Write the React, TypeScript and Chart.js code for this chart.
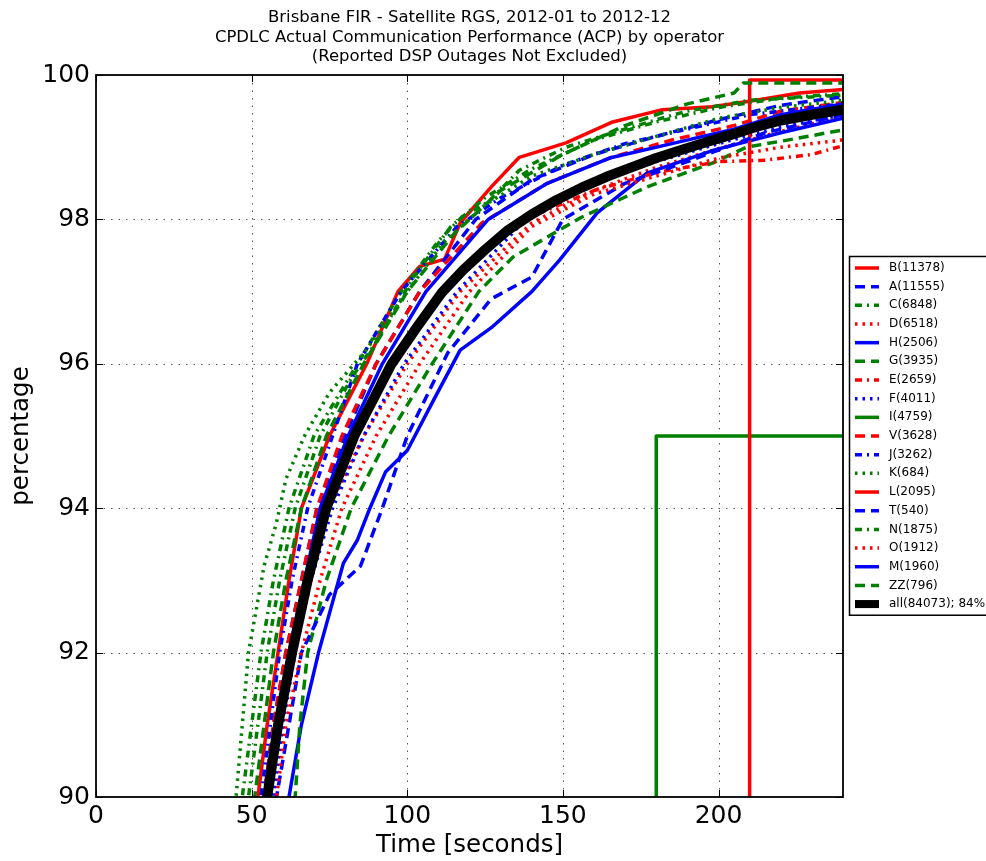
import React, { useEffect, useRef } from 'react';
import { Chart, registerables } from 'chart.js';

Chart.register(...registerables);

// ---------- text ----------
const TITLE_LINES = [
  'Brisbane FIR - Satellite RGS, 2012-01 to 2012-12',
  'CPDLC Actual Communication Performance (ACP) by operator',
  '(Reported DSP Outages Not Excluded)',
];
const X_LABEL = 'Time [seconds]';
const Y_LABEL = 'percentage';

// ---------- axes ----------
const X_MIN = 0;
const X_MAX = 240;
const X_STEP = 50;
const Y_MIN = 90;
const Y_MAX = 100;
const Y_STEP = 2;

// ---------- series: [time (s), cumulative percentage] ----------
type Pt = [number, number];
const B: Pt[] = [[51, 89.5], [52, 90], [55, 91], [58.5, 92], [62, 93], [66, 94], [75, 95], [87, 96], [97, 97], [104, 97.35], [112, 97.45], [117, 97.95], [127, 98.45], [136, 98.86], [151, 99.06], [166, 99.35], [182, 99.52], [198, 99.56], [212, 99.65], [226, 99.75], [240, 99.8]];
const A: Pt[] = [[53, 89.5], [54, 90], [57, 91], [61, 92], [66, 93], [71, 94], [80, 95], [90, 96], [104, 97], [122, 98], [140, 98.55], [160, 98.9], [180, 99.15], [200, 99.38], [220, 99.58], [240, 99.7]];
const C: Pt[] = [[46, 89.5], [47, 90], [50, 91], [53, 92], [57, 93], [62, 94], [70, 95], [84, 96], [98, 97], [110, 97.7], [118, 98.05], [126, 98.24], [136, 98.68], [151, 99.0], [166, 99.2], [180, 99.38], [190, 99.5], [210, 99.65], [240, 99.72]];
const D: Pt[] = [[55, 89.5], [56, 90], [59, 91], [63, 92], [68, 93], [75, 94], [86, 95], [100, 96], [117, 97], [140, 97.95], [160, 98.4], [180, 98.72], [200, 98.98], [220, 99.22], [240, 99.42]];
const H: Pt[] = [[61, 89.5], [62, 90], [66, 91], [71.5, 92], [79.5, 93.24], [84, 93.56], [88, 94], [93, 94.5], [100, 94.8], [108.5, 95.5], [117, 96.19], [127, 96.5], [140, 97.0], [149, 97.44], [161, 98.09], [177, 98.64], [198.5, 98.96], [220, 99.2], [240, 99.4]];
const G: Pt[] = [[63, 89.5], [64, 90], [65.5, 91], [68, 92], [74, 93], [82, 94], [94, 95], [108, 96], [123, 97], [134, 97.48], [156, 98.03], [177, 98.45], [198, 98.78], [209, 99.0], [225, 99.12], [240, 99.24]];
const E: Pt[] = [[54, 89.5], [55, 90], [58, 91], [62, 92], [67, 93], [73, 94], [83, 95], [96, 96], [112, 97], [135, 97.95], [160, 98.4], [180, 98.65], [200, 98.8], [215, 98.82], [230, 98.9], [240, 99.02]];
const F: Pt[] = [[56, 89.5], [57, 90], [60, 91], [64, 92], [69, 93], [76, 94], [86, 95], [99, 96], [116, 97], [138, 98], [160, 98.5], [180, 98.8], [200, 99.05], [220, 99.28], [240, 99.45]];
const I: Pt[] = [[180, 80], [180, 95], [240, 95]];
const V: Pt[] = [[53, 89.5], [54, 90], [57, 91], [61, 92], [66, 93], [71, 94], [79, 95], [90, 96], [104, 97], [124, 97.95], [145, 98.5], [165, 98.85], [185, 99.1], [205, 99.3], [220, 99.5], [240, 99.62]];
const J: Pt[] = [[52, 89.5], [53, 90], [56, 91], [59, 92], [63, 93], [68, 94], [76, 95], [84, 96], [98, 97], [116, 97.9], [130, 98.3], [150, 98.75], [170, 99.05], [190, 99.25], [210, 99.45], [240, 99.6]];
const K: Pt[] = [[44, 89.5], [45, 90], [47, 91], [49, 92], [54, 93.2], [58, 93.8], [61, 94.4], [67, 95], [75, 95.6], [87, 96.2], [100, 97.0], [112, 97.7], [125, 98.2], [140, 98.6], [160, 98.9], [180, 99.15], [200, 99.4], [220, 99.55], [240, 99.65]];
const L: Pt[] = [[210, 80], [210, 99.93], [240, 99.93]];
const T: Pt[] = [[57, 89.5], [58, 90], [62, 91], [66, 92], [75, 92.8], [85, 93.2], [92, 94], [100, 95], [113, 96.15], [127, 96.9], [140, 97.2], [150, 98.0], [170, 98.5], [190, 98.8], [215, 99.2], [240, 99.45]];
const N: Pt[] = [[48, 89.5], [49, 90], [52, 91], [55, 92], [59, 93], [64, 94], [72, 95], [82, 95.8], [90, 96.3], [102, 97.2], [114, 97.9], [125, 98.3], [140, 98.7], [160, 99.1], [180, 99.35], [200, 99.55], [220, 99.68], [240, 99.74]];
const O: Pt[] = [[57, 89.5], [58, 90], [61, 91], [66, 92], [72, 93], [79, 94], [90, 95], [104, 96], [120, 97], [140, 97.9], [160, 98.35], [180, 98.6], [200, 98.85], [220, 99.0], [240, 99.1]];
const M: Pt[] = [[54, 89.5], [55, 90], [58, 91], [62, 92], [67, 93], [72, 94], [81, 95], [92, 96], [106, 97], [126, 98], [145, 98.5], [165, 98.85], [185, 99.05], [205, 99.25], [220, 99.45], [240, 99.6]];
const ZZ: Pt[] = [[50, 89.5], [51, 90], [54, 91], [57, 92], [61, 93], [66, 94], [74, 95], [86, 96], [100, 97], [115, 97.8], [130, 98.4], [150, 98.9], [170, 99.3], [190, 99.6], [205, 99.75], [208, 99.89], [240, 99.89]];
const ALL: Pt[] = [[54, 89.5], [55, 90], [58.5, 91], [63, 92], [68, 93], [74, 94], [83, 95], [95, 96], [103, 96.5], [111, 96.98], [118, 97.3], [125, 97.58], [132, 97.84], [140, 98.07], [148, 98.27], [156, 98.44], [164, 98.59], [172, 98.72], [180, 98.85], [188, 98.96], [196, 99.07], [204, 99.17], [212, 99.28], [220, 99.37], [230, 99.45], [240, 99.52]];

const SERIES_LABELS = [
  'B(11378)', 'A(11555)', 'C(6848)', 'D(6518)', 'H(2506)', 'G(3935)', 'E(2659)', 'F(4011)', 'I(4759)',
  'V(3628)', 'J(3262)', 'K(684)', 'L(2095)', 'T(540)', 'N(1875)', 'O(1912)', 'M(1960)', 'ZZ(796)',
  'all(84073); 84%',
];
const SERIES_DATA = [B, A, C, D, H, G, E, F, I, V, J, K, L, T, N, O, M, ZZ, ALL];

// ---------- styles ----------
const RED = '#ff0000';
const BLUE = '#0000ff';
const GREEN = '#008000';
const COLOR_CYCLE = [RED, BLUE, GREEN];
const DASHES: Record<string, number[]> = {
  solid: [],
  dashed: [10, 6],
  dashdot: [7, 5, 2, 5],
  dotted: [2.5, 5],
};
const STYLE_CYCLE = ['solid', 'dashed', 'dashdot', 'dotted'];
const FONT = '"DejaVu Sans", "Liberation Sans", sans-serif';

function styleFor(i: number) {
  if (i === SERIES_DATA.length - 1) return { color: '#000000', dash: [] as number[], width: 10 };
  return { color: COLOR_CYCLE[i % 3], dash: DASHES[STYLE_CYCLE[i % 4]], width: 3.5 };
}

const decorPlugin = {
  id: 'decor',
  beforeDatasetsDraw(chart: any) {
    const { ctx, chartArea: a, scales } = chart;
    const xs = scales.x;
    const ys = scales.y;
    ctx.save();
    ctx.strokeStyle = '#555555';
    ctx.lineWidth = 1;
    ctx.setLineDash([1.5, 6]);
    xs.ticks.forEach((t: any) => {
      if (t.value <= X_MIN || t.value >= X_MAX) return;
      const px = Math.round(xs.getPixelForValue(t.value)) + 0.5;
      ctx.beginPath();
      ctx.moveTo(px, a.bottom);
      ctx.lineTo(px, a.top);
      ctx.stroke();
    });
    ys.ticks.forEach((t: any) => {
      if (t.value <= Y_MIN || t.value >= Y_MAX) return;
      const py = Math.round(ys.getPixelForValue(t.value)) + 0.5;
      ctx.beginPath();
      ctx.moveTo(a.left, py);
      ctx.lineTo(a.right, py);
      ctx.stroke();
    });
    ctx.restore();
  },
  afterDatasetsDraw(chart: any) {
    const { ctx, chartArea: a, scales } = chart;
    const xs = scales.x;
    const ys = scales.y;
    ctx.save();
    // tick marks (inward, all four sides)
    ctx.strokeStyle = '#000';
    ctx.lineWidth = 1;
    ctx.setLineDash([]);
    const TL = 7;
    xs.ticks.forEach((t: any) => {
      const px = Math.round(xs.getPixelForValue(t.value)) + 0.5;
      ctx.beginPath();
      ctx.moveTo(px, a.bottom);
      ctx.lineTo(px, a.bottom - TL);
      ctx.moveTo(px, a.top);
      ctx.lineTo(px, a.top + TL);
      ctx.stroke();
    });
    ys.ticks.forEach((t: any) => {
      const py = Math.round(ys.getPixelForValue(t.value)) + 0.5;
      ctx.beginPath();
      ctx.moveTo(a.left, py);
      ctx.lineTo(a.left + TL, py);
      ctx.moveTo(a.right, py);
      ctx.lineTo(a.right - TL, py);
      ctx.stroke();
    });
    // frame
    ctx.lineWidth = 1.8;
    ctx.strokeRect(a.left, a.top, a.right - a.left, a.bottom - a.top);

    // title
    ctx.fillStyle = '#000';
    ctx.font = `16.5px ${FONT}`;
    ctx.textAlign = 'center';
    ctx.textBaseline = 'middle';
    const cx = (a.left + a.right) / 2;
    TITLE_LINES.forEach((line, i) => ctx.fillText(line, cx, 18 + i * 19.5));

    // legend
    const lx = a.right + 6;
    const ltop = a.top + 181;
    const rowH = 18.67;
    const lh = rowH * SERIES_LABELS.length + 4;
    ctx.fillStyle = '#ffffff';
    ctx.fillRect(lx, ltop, 300, lh);
    ctx.strokeStyle = '#000';
    ctx.lineWidth = 1.5;
    ctx.strokeRect(lx + 0.5, ltop + 0.5, 300, lh);
    ctx.textAlign = 'left';
    ctx.font = `12px ${FONT}`;
    chart.data.datasets.forEach((ds: any, i: number) => {
      const y = ltop + 12 + i * rowH;
      ctx.save();
      ctx.strokeStyle = ds.borderColor;
      ctx.lineWidth = Math.min(ds.borderWidth, 8);
      ctx.setLineDash(ds.borderDash || []);
      ctx.lineCap = 'butt';
      ctx.beginPath();
      ctx.moveTo(lx + 6, y);
      ctx.lineTo(lx + 30, y);
      ctx.stroke();
      ctx.restore();
      ctx.fillStyle = '#000';
      ctx.fillText(ds.label, lx + 40, y);
    });
    ctx.restore();
  },
};

export default function App() {
  const ref = useRef<HTMLCanvasElement | null>(null);
  useEffect(() => {
    if (!ref.current) return;
    const n = SERIES_DATA.length;
    const datasets = SERIES_DATA.map((pts, i) => {
      const s = styleFor(i);
      return {
        label: SERIES_LABELS[i],
        data: pts.map(([x, y]) => ({ x, y })),
        borderColor: s.color,
        backgroundColor: s.color,
        borderWidth: s.width,
        borderDash: s.dash,
        borderCapStyle: 'butt',
        borderJoinStyle: 'round',
        pointRadius: 0,
        tension: 0,
        fill: false,
        order: n - i,
      };
    });
    const chart = new Chart(ref.current, {
      type: 'line',
      data: { datasets: datasets as any },
      plugins: [decorPlugin],
      options: {
        animation: false,
        responsive: false,
        maintainAspectRatio: false,
        layout: { padding: { left: 0, top: 75, right: 143, bottom: 0 } },
        plugins: { legend: { display: false }, tooltip: { enabled: false }, title: { display: false } },
        scales: {
          x: {
            type: 'linear',
            min: X_MIN,
            max: X_MAX,
            grid: { display: false, drawTicks: false },
            border: { display: false },
            ticks: {
              stepSize: X_STEP,
              includeBounds: false,
              color: '#000',
              padding: 4,
              maxRotation: 0,
              font: { size: 25, family: FONT },
            },
            title: {
              display: true,
              text: X_LABEL,
              color: '#000',
              font: { size: 24.5, family: FONT },
              padding: { top: 0, bottom: 1 },
            },
            afterFit(scale: any) {
              scale.height = 64;
            },
          },
          y: {
            type: 'linear',
            min: Y_MIN,
            max: Y_MAX,
            grid: { display: false, drawTicks: false },
            border: { display: false },
            ticks: {
              stepSize: Y_STEP,
              color: '#000',
              padding: 6,
              font: { size: 25, family: FONT },
            },
            title: {
              display: true,
              text: Y_LABEL,
              color: '#000',
              font: { size: 24.5, family: FONT },
              padding: { top: 7, bottom: 0 },
            },
            afterFit(scale: any) {
              scale.width = 96;
            },
          },
        },
      } as any,
    });
    return () => chart.destroy();
  }, []);
  return (
    <div style={{ position: 'absolute', left: 0, top: 0, width: 986, height: 861, background: '#fff' }}>
      <canvas ref={ref} width={986} height={861} style={{ display: 'block' }} />
    </div>
  );
}
